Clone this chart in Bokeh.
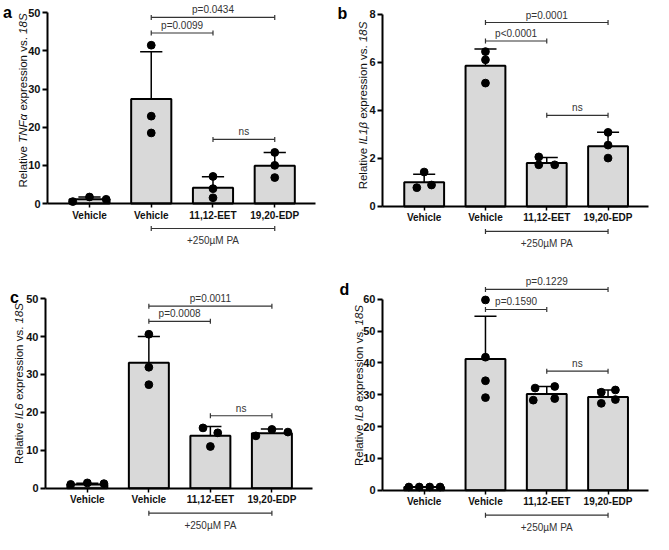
import math
from bokeh.plotting import figure
from bokeh.models import Range1d, FixedTicker
from bokeh.layouts import gridplot
from bokeh.core.properties import value
from bokeh.embed import file_html
from bokeh.resources import INLINE

# ---------------- data ----------------
groups = ["Vehicle", "Vehicle", "11,12-EET", "19,20-EDP"]
treatment = "+250µM PA"

tnfa_mean = [1.1, 27.4, 4.1, 9.9]
tnfa_sd_top = [1.7, 39.8, 7.0, 13.4]
tnfa_points = [[0.5, 1.7, 1.1], [41.5, 22.9, 18.5], [7.1, 3.9, 1.5], [13.4, 10.0, 6.8]]
tnfa_stats = [(1, 3, "p=0.0434", 48.8), (1, 2, "p=0.0099", 44.7), (2, 3, "ns", 16.8)]

il1b_mean = [1.0, 5.85, 1.81, 2.5]
il1b_sd_top = [1.34, 6.55, 2.03, 3.08]
il1b_points = [[0.78, 1.43, 0.89], [6.44, 6.1, 5.13], [2.06, 1.73, 1.73], [3.08, 2.55, 2.01]]
il1b_stats = [(1, 3, "p=0.0001", 7.65), (1, 2, "p<0.0001", 6.88), (2, 3, "ns", 3.79)]

il6_mean = [1.0, 33.1, 13.8, 14.5]
il6_sd_top = [1.3, 40.0, 16.3, 15.6]
il6_points = [[1.0, 1.4, 1.2], [40.6, 31.9, 27.3], [15.9, 14.6, 11.0], [13.8, 15.5, 14.8]]
il6_stats = [(1, 3, "p=0.0011", 48.0), (1, 2, "p=0.0008", 44.0), (2, 3, "ns", 19.1)]

il8_mean = [1.0, 41.2, 30.2, 29.3]
il8_sd_top = [1.1, 54.7, 32.6, 31.5]
il8_points = [[1.0, 1.0, 1.0, 1.0], [59.8, 41.8, 34.4, 29.1],
              [32.1, 32.6, 28.3, 28.8], [30.8, 31.5, 27.3, 28.5]]
il8_stats = [(1, 3, "p=0.1229", 63.1), (1, 2, "p=0.1590", 56.8), (2, 3, "ns", 37.4)]

# ---------------- layout / style ----------------
FONT = "Liberation Sans"
W, H = 326, 267
XA0, XA1 = -0.68, 3.66       # extent of the x axis (category units)
BAR_W = 0.65
CAP_W = 0.36

ARIAL = {' ': 278, 'R': 722, 'e': 556, 'l': 222, 'a': 556, 't': 278, 'i': 222, 'v': 500,
         'T': 611, 'N': 722, 'F': 611, 'α': 578, 'I': 278, 'L': 556, '1': 556, 'β': 575,
         '6': 556, '8': 556, 'x': 500, 'p': 556, 'r': 333, 's': 500, 'o': 556, 'n': 556,
         '.': 278, 'S': 667}


def tw(s, size):
    return sum(ARIAL.get(c, 556) for c in s) / 1000.0 * size


panels = [
    dict(letter="a", gene="TNFα", ymax=50, step=10, left=47, right=11, tick_top=12.3, zero=203.0,
         lx=7, ly=12, yl_x=22, yl_y=100,
         jitter=[[-0.27, 0, 0.27], [0, 0, 0], [0, 0, 0], [0, 0, 0]]),
    dict(letter="b", gene="IL1β", ymax=8, step=2, left=56, right=4, tick_top=13.6, zero=205.9,
         lx=16, ly=13, yl_x=36, yl_y=105,
         jitter=[[-0.12, 0, 0.12], [0, 0, 0], [-0.13, -0.13, 0.13], [0, 0, 0]]),
    dict(letter="c", gene="IL6", ymax=50, step=10, left=45, right=14, tick_top=31.1, zero=220.7,
         lx=14, ly=30, yl_x=18.5, yl_y=116,
         jitter=[[-0.27, 0, 0.27], [0, 0, 0], [-0.12, 0.12, 0], [-0.26, 0, 0.26]]),
    dict(letter="d", gene="IL8", ymax=60, step=10, left=56, right=4, tick_top=31.8, zero=222.7,
         lx=18, ly=22, yl_x=32, yl_y=118,
         jitter=[[-0.25, -0.08, 0.09, 0.26], [0, 0, 0, 0],
                 [-0.19, 0.13, -0.22, 0.13], [-0.11, 0.12, -0.11, 0.12]]),
]


def make_panel(cfg, means, sd_top, points, stats):
    ymax = cfg["ymax"]
    ppu = (cfg["zero"] - cfg["tick_top"]) / ymax
    ppx = (W - cfg["left"] - cfg["right"]) / (XA1 - XA0)
    x_start = XA0 - cfg["left"] / ppx
    x_end = x_start + W / ppx
    y_end = ymax + cfg["tick_top"] / ppu
    y_start = y_end - H / ppu

    def fx(px):  # figure pixel x -> data x
        return x_start + px / ppx

    def fy(py):  # figure pixel y (from top) -> data y
        return y_end - py / ppu

    p = figure(width=W, height=H, x_range=Range1d(x_start, x_end),
               y_range=Range1d(y_start, y_end),
               output_backend="svg", toolbar_location=None, min_border=0)
    p.outline_line_color = None
    p.grid.visible = False
    p.background_fill_color = "white"
    p.border_fill_color = "white"

    idx = list(range(len(groups)))

    # x axis at y = 0
    xa = p.xaxis[0]
    xa.fixed_location = 0
    xa.bounds = (XA0, XA1)
    xa.ticker = FixedTicker(ticks=idx)
    xa.major_label_overrides = {i: g for i, g in enumerate(groups)}
    xa.axis_line_width = 2
    xa.axis_line_color = "black"
    xa.major_tick_out = 4
    xa.major_tick_in = 0
    xa.major_tick_line_width = 1.5
    xa.minor_tick_line_color = None
    xa.major_label_standoff = 2
    xa.major_label_text_font = FONT
    xa.major_label_text_font_style = "bold"
    xa.major_label_text_font_size = "10px"
    xa.major_label_text_color = "#111111"

    # y axis at the left end of the x axis
    ya = p.yaxis[0]
    ya.fixed_location = XA0
    ya.bounds = (0, ymax)
    ya.ticker = FixedTicker(ticks=list(range(0, ymax + 1, cfg["step"])))
    ya.axis_line_width = 2
    ya.axis_line_color = "black"
    ya.major_tick_out = 5
    ya.major_tick_in = 0
    ya.major_tick_line_width = 2
    ya.minor_tick_line_color = None
    ya.major_label_standoff = 2
    ya.major_label_text_font = FONT
    ya.major_label_text_font_style = "bold"
    ya.major_label_text_font_size = "11px"
    ya.major_label_text_color = "#111111"

    # bars
    p.vbar(x=idx, top=means, bottom=0, width=BAR_W, fill_color="#d9d9d9",
           line_color="black", line_width=2)
    # SD (upper) error bars
    p.segment(x0=idx, y0=means, x1=idx, y1=sd_top, line_color="black", line_width=1.5)
    p.segment(x0=[i - CAP_W / 2 for i in idx], y0=sd_top, x1=[i + CAP_W / 2 for i in idx],
              y1=sd_top, line_color="black", line_width=1.5)
    # individual points
    px, py = [], []
    for i, (vals, jit) in enumerate(zip(points, cfg["jitter"])):
        for v, j in zip(vals, jit):
            px.append(i + j)
            py.append(v)
    p.scatter(x=px, y=py, size=7.8, fill_color="black", line_color="black")

    # significance brackets
    tick = 2.5 / ppu
    bx0, bx1, by, tx, ty, tt = [], [], [], [], [], []
    vx, vy0, vy1 = [], [], []
    for a, b, txt, yv in stats:
        bx0.append(a); bx1.append(b); by.append(yv)
        tx.append((a + b) / 2); ty.append(yv); tt.append(txt)
        for e in (a, b):
            vx.append(e); vy0.append(yv - tick); vy1.append(yv + tick)
    # treatment bracket below axis
    yb = -25 / ppu
    bx0.append(1); bx1.append(3); by.append(yb)
    for e in (1, 3):
        vx.append(e); vy0.append(yb - tick); vy1.append(yb + tick)
    p.segment(x0=bx0, y0=by, x1=bx1, y1=by, line_color="#333333", line_width=1.2)
    p.segment(x0=vx, y0=vy0, x1=vx, y1=vy1, line_color="#333333", line_width=1.2)
    p.text(x=tx, y=ty, text=tt, text_font=value(FONT), text_font_size="10px",
           text_color="#333333", text_align="center", text_baseline="bottom", y_offset=-2)
    p.text(x=[2], y=[-37 / ppu], text=[treatment], text_font=value(FONT),
           text_font_size="10px", text_color="#333333", text_align="center",
           text_baseline="middle")

    # y-axis label with italic gene names, built from rotated pieces
    fs = 11.5
    parts = [("Relative", "normal", "Relative "), (cfg["gene"], "italic", cfg["gene"]),
             ("expression vs.", "normal", " expression vs. "), ("18S", "italic", "18S")]
    total = sum(tw(full, fs) for _, _, full in parts)
    ystart = cfg["yl_y"] + total / 2
    off = 0.0
    for txt, style, full in parts:
        lead = tw(full[:len(full) - len(full.lstrip())], fs)
        p.text(x=[fx(cfg["yl_x"])], y=[fy(ystart - off - lead)], text=[txt], angle=math.pi / 2,
               text_font=value(FONT), text_font_size=f"{fs}px", text_font_style=style,
               text_align="left", text_baseline="middle", text_color="#111111")
        off += tw(full, fs)

    # panel letter
    p.text(x=[fx(cfg["lx"])], y=[fy(cfg["ly"])], text=[cfg["letter"]],
           text_font=value(FONT), text_font_size="16px", text_font_style="bold",
           text_align="center", text_baseline="middle", text_color="black")
    return p


pa = make_panel(panels[0], tnfa_mean, tnfa_sd_top, tnfa_points, tnfa_stats)
pb = make_panel(panels[1], il1b_mean, il1b_sd_top, il1b_points, il1b_stats)
pc = make_panel(panels[2], il6_mean, il6_sd_top, il6_points, il6_stats)
pd = make_panel(panels[3], il8_mean, il8_sd_top, il8_points, il8_stats)

grid = gridplot([[pa, pb], [pc, pd]], toolbar_location=None)

open("out.html", "w").write(file_html(grid, INLINE))
